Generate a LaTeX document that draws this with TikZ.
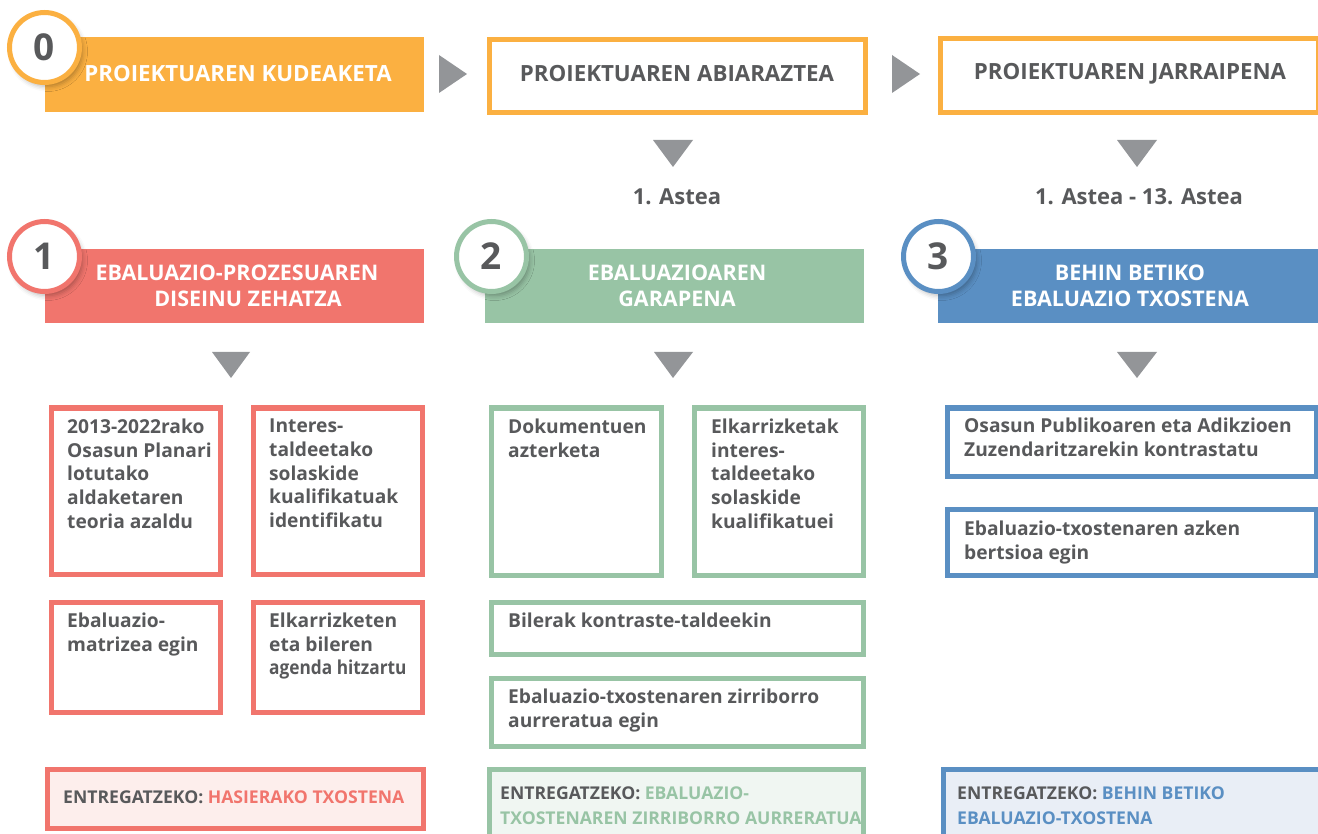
\documentclass[tikz,border=0pt]{standalone}
\usepackage{fontspec}
\setmainfont{Open Sans}
\usetikzlibrary{shadows.blur}
\definecolor{orng}{HTML}{FBB041}
\definecolor{rd}{HTML}{F1756D}
\definecolor{grn}{HTML}{98C4A5}
\definecolor{blu}{HTML}{5A8FC3}
\definecolor{txt}{HTML}{58595B}
\definecolor{arr}{HTML}{939598}
\definecolor{rdl}{HTML}{FDEEEC}
\definecolor{grnl}{HTML}{F0F6F2}
\definecolor{blul}{HTML}{E9EEF6}
\begin{document}
\begin{tikzpicture}[x=1pt,y=-1pt,
  fillbox/.style={fill=#1, draw=none, inner sep=0, anchor=north west},
  linebox/.style={draw=#1, line width=5pt, fill=white, inner sep=0, anchor=north west},
  head/.style={inner sep=0, font=\bfseries\fontsize{21.5}{26}\selectfont, align=center, text=white},
  headtop/.style={inner sep=0, font=\bfseries\fontsize{22.3}{26}\selectfont, align=center, text=white},
  headdark/.style={headtop, text=txt},
  body/.style={inner sep=0, anchor=north west, align=left, text=txt, font=\bfseries\fontsize{19.2}{23.6}\selectfont},
  deliv/.style={body, font=\bfseries\fontsize{17.6}{24.5}\selectfont},
  week/.style={inner sep=0, text=txt, font=\bfseries\fontsize{22}{26}\selectfont},
  num/.style={circle, draw=#1, line width=5pt, fill=white, minimum size=70pt, inner sep=0,
    font=\bfseries\fontsize{37}{37}\selectfont, text=txt,
    blur shadow={shadow xshift=3pt, shadow yshift=-4pt, shadow blur radius=5pt, shadow opacity=30}},
  tri/.style={fill=arr, draw=none}
]
\useasboundingbox (0,0) rectangle (1318,834);
\clip (0,0) rectangle (1318,834);

% ---- top row ----
\node[fillbox=orng, minimum width=379pt, minimum height=75pt] (p0) at (45,37) {};
\node[headtop] (p0t) at (238,74) {PROIEKTUAREN KUDEAKETA};
\node[linebox=orng, minimum width=376pt, minimum height=73pt] (p1) at (486.5,37.5) {};
\node[headdark] (p1t) at (677,74) {PROIEKTUAREN ABIARAZTEA};
\node[linebox=orng, minimum width=378pt, minimum height=74pt] (p2) at (937.5,36.5) {};
\node[headdark] (p2t) at (1130,74) {PROIEKTUAREN JARRAIPENA};

\fill[tri] (439,55) -- (467,74) -- (439,93) -- cycle;
\fill[tri] (892,55) -- (920,74) -- (892,93) -- cycle;

\fill[tri] (653,140) -- (693,140) -- (673,167) -- cycle;
\fill[tri] (1117,140) -- (1157,140) -- (1137,167) -- cycle;

\node[week] (w1) at (677,197) {1. Astea};
\node[week] (w2) at (1139,197) {1. Astea - 13. Astea};

% ---- phase headers ----
\node[fillbox=rd, minimum width=379pt, minimum height=74pt] (h1) at (45,249) {};
\node[head] (h1t) at (237,286) {EBALUAZIO-PROZESUAREN\\\hspace*{22pt}DISEINU ZEHATZA};
\node[fillbox=grn, minimum width=379pt, minimum height=74pt] (h2) at (485,249) {};
\node[head] (h2t) at (677,286) {EBALUAZIOAREN\\GARAPENA};
\node[fillbox=blu, minimum width=381pt, minimum height=74pt] (h3) at (938,249) {};
\node[head] (h3t) at (1130,286) {BEHIN BETIKO\\EBALUAZIO TXOSTENA};

\node[num=orng] (c0) at (44.5,47.5) {0};
\node[num=rd] (c1) at (44.5,256.5) {1};
\node[num=grn] (c2) at (491.5,256.5) {2};
\node[num=blu] (c3) at (938.5,256.5) {3};

\fill[tri] (212,352) -- (250,352) -- (231,378) -- cycle;
\fill[tri] (654,352) -- (693,352) -- (673,378) -- cycle;
\fill[tri] (1117,352) -- (1157,352) -- (1137,378) -- cycle;

% ---- column 1 ----
\node[linebox=rd, minimum width=169pt, minimum height=166pt] (a1) at (48.5,405.5) {};
\node[body, xshift=18.5pt, yshift=-13.5pt] (a1t) at (a1.north west) {2013-2022rako\\Osasun Planari\\lotutako\\aldaketaren\\teoria azaldu};
\node[linebox=rd, minimum width=169pt, minimum height=166pt] (b1) at (250.5,405.5) {};
\node[body, xshift=18.5pt, yshift=-13.5pt] (b1t) at (b1.north west) {Interes-\\taldeetako\\solaskide\\kualifikatuak\\identifikatu};
\node[linebox=rd, minimum width=169pt, minimum height=110pt] (c1b) at (48.5,599.5) {};
\node[body, xshift=18.5pt, yshift=-13.5pt] (c1bt) at (c1b.north west) {Ebaluazio-\\matrizea egin};
\node[linebox=rd, minimum width=169pt, minimum height=110pt] (d1) at (250.5,599.5) {};
\node[body, xshift=18.5pt, yshift=-13.5pt] (d1t) at (d1.north west) {Elkarrizketen\\eta bileren\\\scalebox{0.9}[1]{agenda hitzartu}};

% ---- column 2 ----
\node[linebox=grn, minimum width=170pt, minimum height=167pt] (a2) at (488.5,405.5) {};
\node[body, xshift=19.5pt, yshift=-13.5pt] (a2t) at (a2.north west) {Dokumentuen\\azterketa};
\node[linebox=grn, minimum width=169pt, minimum height=167pt] (b2) at (691.5,405.5) {};
\node[body, xshift=19.5pt, yshift=-13.5pt] (b2t) at (b2.north west) {Elkarrizketak\\interes-\\taldeetako\\solaskide\\kualifikatuei};
\node[linebox=grn, minimum width=372pt, minimum height=52pt] (c2b) at (488.5,599.5) {};
\node[body, xshift=19.5pt, yshift=-13.5pt] (c2bt) at (c2b.north west) {Bilerak kontraste-taldeekin};
\node[linebox=grn, minimum width=372pt, minimum height=68pt] (d2) at (488.5,675.5) {};
\node[body, xshift=19.5pt, yshift=-13.5pt] (d2t) at (d2.north west) {Ebaluazio-txostenaren zirriborro\\aurreratua egin};

% ---- column 3 ----
\node[linebox=blu, minimum width=369pt, minimum height=68pt] (a3) at (944.5,405.5) {};
\node[body, xshift=19.5pt, yshift=-12.5pt] (a3t) at (a3.north west) {Osasun Publikoaren eta Adikzioen\\Zuzendaritzarekin kontrastatu};
\node[linebox=blu, minimum width=369pt, minimum height=66pt] (b3) at (944.5,506.5) {};
\node[body, xshift=19.5pt, yshift=-14.5pt] (b3t) at (b3.north west) {Ebaluazio-txostenaren azken\\bertsioa egin};

% ---- deliverables ----
\node[linebox=rd, fill=rdl, minimum width=376pt, minimum height=59pt] (e1) at (44.5,766.5) {};
\node[deliv, anchor=west] (e1t) at (63,797) {ENTREGATZEKO: \textcolor{rd}{HASIERAKO TXOSTENA}};
\node[linebox=grn, fill=grnl, minimum width=374pt, minimum height=80pt] (e2) at (486.5,766.5) {};
\node[deliv, xshift=13.5pt, yshift=-20.5pt] (e2t) at (e2.north west) {ENTREGATZEKO: \textcolor{grn}{EBALUAZIO-}\\\textcolor{grn}{TXOSTENAREN ZIRRIBORRO AURRERATUA}};
\node[linebox=blu, fill=blul, minimum width=384pt, minimum height=80pt] (e3) at (940.5,766.5) {};
\node[deliv, xshift=16.5pt, yshift=-20.5pt] (e3t) at (e3.north west) {ENTREGATZEKO: \textcolor{blu}{BEHIN BETIKO}\\\textcolor{blu}{EBALUAZIO-TXOSTENA}};
\end{tikzpicture}
\end{document}
